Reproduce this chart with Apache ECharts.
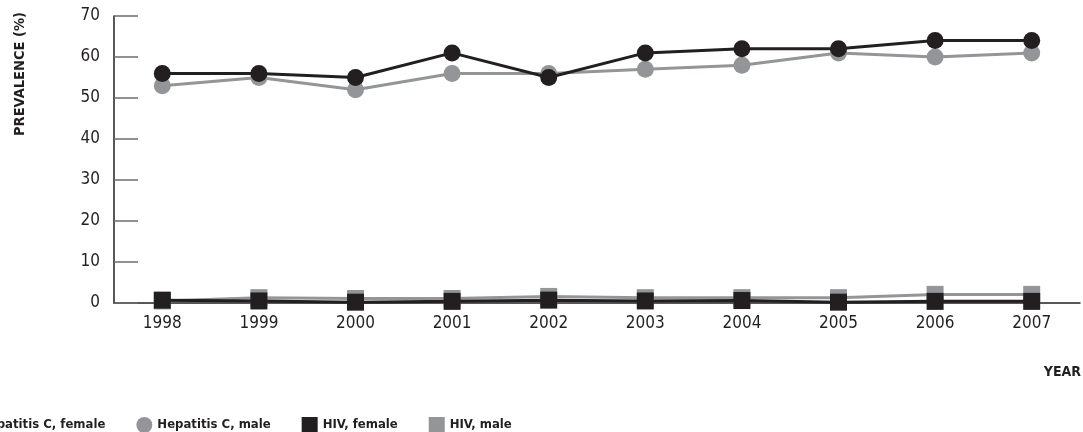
<!DOCTYPE html>
<html>
<head>
<meta charset="utf-8">
<script src="https://cdn.jsdelivr.net/npm/echarts@6/dist/echarts.min.js"></script>
<style>
  html, body { margin: 0; padding: 0; background: #fff; }
  #chart { width: 1083px; height: 432px; }
</style>
</head>
<body>
<div id="chart"></div>
<script>
const years = ['1998', '1999', '2000', '2001', '2002', '2003', '2004', '2005', '2006', '2007']
const hepCFemale = [56, 56, 55, 61, 55, 61, 62, 62, 64, 64]
const hepCMale = [53, 55, 52, 56, 56, 57, 58, 61, 60, 61]
const hivFemale = [0.7, 0.5, 0.2, 0.4, 0.7, 0.5, 0.6, 0.2, 0.4, 0.4]
const hivMale = [0.5, 1.3, 1.1, 1.1, 1.6, 1.3, 1.3, 1.3, 2.1, 2.1]
const yTicks = [0, 10, 20, 30, 40, 50, 60, 70]

const FONT = "'DejaVu Sans Condensed', 'Liberation Sans', sans-serif"
const DARK = '#231f20'
const GREY = '#939598'

const mkSeries = (name, data, color, symbol, z) => ({
  name,
  type: 'line',
  data,
  z,
  symbol,
  symbolSize: 17,
  lineStyle: { color, width: 3 },
  itemStyle: { color },
  emphasis: { disabled: true }
})

const chart = echarts.init(document.getElementById('chart'))
chart.setOption({
  animation: false,
  grid: { left: 114, right: 3, top: 16, bottom: 129 },
  legend: {
    left: -47,
    top: 412,
    itemWidth: 16,
    itemHeight: 16,
    itemGap: 31,
    textStyle: { fontFamily: FONT, fontWeight: 'bold', fontSize: 13, color: DARK },
    data: [
      { name: 'Hepatitis C, female', icon: 'circle' },
      { name: 'Hepatitis C, male', icon: 'circle' },
      { name: 'HIV, female', icon: 'rect' },
      { name: 'HIV, male', icon: 'rect' }
    ]
  },
  xAxis: {
    type: 'category',
    data: years,
    boundaryGap: true,
    axisLine: { lineStyle: { color: DARK, width: 1.5 } },
    axisTick: { show: false },
    axisLabel: { fontFamily: FONT, fontSize: 17, color: DARK, margin: 12 }
  },
  yAxis: {
    type: 'value',
    min: yTicks[0],
    max: yTicks[yTicks.length - 1],
    interval: 10,
    axisLine: { show: true, lineStyle: { color: DARK, width: 1.5 } },
    axisTick: { show: true, inside: true, length: 24, lineStyle: { color: '#6d6e71', width: 1.5 } },
    splitLine: { show: false },
    axisLabel: { fontFamily: FONT, fontSize: 17, color: DARK, margin: 14 }
  },
  graphic: [
    {
      type: 'text',
      x: 20,
      y: 74,
      rotation: Math.PI / 2,
      style: {
        text: 'PREVALENCE (%)',
        fontFamily: FONT,
        fontWeight: 'bold',
        fontSize: 14.5,
        fill: DARK,
        align: 'center',
        verticalAlign: 'middle'
      }
    },
    {
      type: 'text',
      right: 2,
      top: 365,
      style: {
        text: 'YEAR',
        fontFamily: FONT,
        fontWeight: 'bold',
        fontSize: 14,
        fill: DARK
      }
    }
  ],
  series: [
    mkSeries('Hepatitis C, female', hepCFemale, DARK, 'circle', 4),
    mkSeries('Hepatitis C, male', hepCMale, GREY, 'circle', 2),
    mkSeries('HIV, female', hivFemale, DARK, 'rect', 3),
    mkSeries('HIV, male', hivMale, GREY, 'rect', 1)
  ]
})
</script>
</body>
</html>
